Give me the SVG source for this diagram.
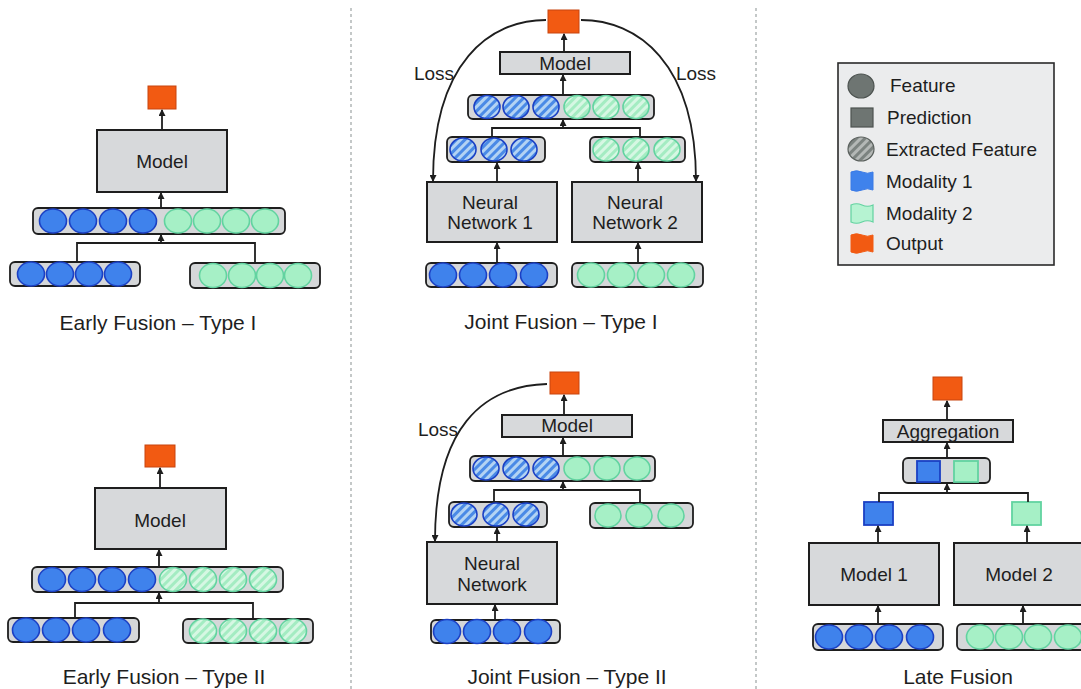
<svg xmlns="http://www.w3.org/2000/svg" width="1081" height="689" viewBox="0 0 1081 689">
  <style>
    text { font-family: "Liberation Sans", Arial, sans-serif; fill: #1e1e1e; }
    .title { font-size: 21px; text-anchor: middle; }
    .lbl { font-size: 19px; text-anchor: middle; }
    .leg { font-size: 19px; }
    .box { fill: #d7d9db; stroke: #1e1e1e; stroke-width: 2; }
    .bar { fill: #d5d7d9; stroke: #1e1e1e; stroke-width: 1.8; }
    .b { fill: #3f82ec; stroke: #1b40c4; stroke-width: 1.6; }
    .g { fill: #a6f0c6; stroke: #62d3a0; stroke-width: 1.6; }
    .bh { fill: url(#hatchBlue); stroke: #1b40c4; stroke-width: 1.6; }
    .gh { fill: url(#hatchGreen); stroke: #62d3a0; stroke-width: 1.6; }
    .out { fill: #f25a12; stroke: #c8440e; stroke-width: 1; }
    .wire { fill: none; stroke: #1e1e1e; stroke-width: 1.8; }
    .arr { fill: none; stroke: #1e1e1e; stroke-width: 1.8; marker-end: url(#ah); }
    .sep { stroke: #c4c8c8; stroke-width: 2; stroke-dasharray: 3 3; }
  </style>
  <defs>
    <marker id="ah" markerWidth="7" markerHeight="7" refX="6" refY="3.5" orient="auto" markerUnits="userSpaceOnUse">
      <path d="M0,0 L7,3.5 L0,7 z" fill="#1e1e1e"/>
    </marker>
    <pattern id="hatchBlue" width="6" height="6" patternUnits="userSpaceOnUse" patternTransform="rotate(45)">
      <rect width="6" height="6" fill="#b3d3f3"/>
      <rect width="3" height="6" fill="#4a8ae6"/>
    </pattern>
    <pattern id="hatchGreen" width="6" height="6" patternUnits="userSpaceOnUse" patternTransform="rotate(45)">
      <rect width="6" height="6" fill="#d6f7e3"/>
      <rect width="3" height="6" fill="#a4ecc2"/>
    </pattern>
    <pattern id="hatchGray" width="6" height="6" patternUnits="userSpaceOnUse" patternTransform="rotate(45)">
      <rect width="6" height="6" fill="#b4b8b6"/>
      <rect width="3" height="6" fill="#7c8380"/>
    </pattern>
  </defs>

  <rect width="1081" height="689" fill="#ffffff"/>

  <!-- dotted column separators -->
  <line class="sep" x1="351" y1="8" x2="351" y2="689"/>
  <line class="sep" x1="756" y1="8" x2="756" y2="689"/>

  <!-- ============ Early Fusion – Type I ============ -->
  <g id="ef1-output"><rect class="out" x="148" y="86" width="28" height="23"/></g>
  <g id="ef1-model"><rect class="box" x="97" y="130" width="130" height="62"/><text class="lbl" x="162" y="168">Model</text></g>
  <g id="ef1-concat">
    <rect class="bar" x="33" y="208" width="252" height="26" rx="5"/>
    <ellipse class="b" cx="53" cy="221" rx="13.5" ry="12"/>
    <ellipse class="b" cx="83" cy="221" rx="13.5" ry="12"/>
    <ellipse class="b" cx="113" cy="221" rx="13.5" ry="12"/>
    <ellipse class="b" cx="143" cy="221" rx="13.5" ry="12"/>
    <ellipse class="g" cx="178" cy="221" rx="13.5" ry="12"/>
    <ellipse class="g" cx="207" cy="221" rx="13.5" ry="12"/>
    <ellipse class="g" cx="236" cy="221" rx="13.5" ry="12"/>
    <ellipse class="g" cx="265" cy="221" rx="13.5" ry="12"/>
  </g>
  <g id="ef1-mod1">
    <rect class="bar" x="10" y="262" width="130" height="24" rx="5"/>
    <ellipse class="b" cx="31" cy="274" rx="13.5" ry="12"/>
    <ellipse class="b" cx="60" cy="274" rx="13.5" ry="12"/>
    <ellipse class="b" cx="89" cy="274" rx="13.5" ry="12"/>
    <ellipse class="b" cx="118" cy="274" rx="13.5" ry="12"/>
  </g>
  <g id="ef1-mod2">
    <rect class="bar" x="190" y="263" width="130" height="25" rx="5"/>
    <ellipse class="g" cx="213" cy="275.5" rx="13.5" ry="12"/>
    <ellipse class="g" cx="242" cy="275.5" rx="13.5" ry="12"/>
    <ellipse class="g" cx="270" cy="275.5" rx="13.5" ry="12"/>
    <ellipse class="g" cx="298" cy="275.5" rx="13.5" ry="12"/>
  </g>
  <text class="title" x="158" y="330">Early Fusion – Type I</text>

  <!-- ============ Early Fusion – Type II ============ -->
  <g id="ef2-output"><rect class="out" x="145" y="445" width="30" height="22"/></g>
  <g id="ef2-model"><rect class="box" x="95" y="488" width="131" height="61"/><text class="lbl" x="160" y="527">Model</text></g>
  <g id="ef2-concat">
    <rect class="bar" x="32" y="567" width="251" height="25" rx="5"/>
    <ellipse class="b" cx="52" cy="579.5" rx="13.5" ry="12"/>
    <ellipse class="b" cx="82" cy="579.5" rx="13.5" ry="12"/>
    <ellipse class="b" cx="112" cy="579.5" rx="13.5" ry="12"/>
    <ellipse class="b" cx="142" cy="579.5" rx="13.5" ry="12"/>
    <ellipse class="gh" cx="173" cy="579.5" rx="13.5" ry="12"/>
    <ellipse class="gh" cx="203" cy="579.5" rx="13.5" ry="12"/>
    <ellipse class="gh" cx="233" cy="579.5" rx="13.5" ry="12"/>
    <ellipse class="gh" cx="263" cy="579.5" rx="13.5" ry="12"/>
  </g>
  <g id="ef2-mod1">
    <rect class="bar" x="8" y="618" width="131" height="24" rx="5"/>
    <ellipse class="b" cx="26" cy="630" rx="13.5" ry="12"/>
    <ellipse class="b" cx="56" cy="630" rx="13.5" ry="12"/>
    <ellipse class="b" cx="86" cy="630" rx="13.5" ry="12"/>
    <ellipse class="b" cx="117" cy="630" rx="13.5" ry="12"/>
  </g>
  <g id="ef2-mod2">
    <rect class="bar" x="183" y="619" width="130" height="24" rx="5"/>
    <ellipse class="gh" cx="203" cy="631" rx="13.5" ry="12"/>
    <ellipse class="gh" cx="233" cy="631" rx="13.5" ry="12"/>
    <ellipse class="gh" cx="263" cy="631" rx="13.5" ry="12"/>
    <ellipse class="gh" cx="293" cy="631" rx="13.5" ry="12"/>
  </g>
  <text class="title" x="164" y="684">Early Fusion – Type II</text>

  <!-- ============ Joint Fusion – Type I ============ -->
  <g id="jf1-output"><rect class="out" x="548" y="10" width="31" height="23"/></g>
  <g id="jf1-model"><rect class="box" x="500" y="52" width="130" height="22"/><text class="lbl" x="565" y="70">Model</text></g>
  <g id="jf1-concat">
    <rect class="bar" x="468" y="95" width="186" height="24" rx="5"/>
    <ellipse class="bh" cx="487" cy="107" rx="13" ry="11.5"/>
    <ellipse class="bh" cx="516" cy="107" rx="13" ry="11.5"/>
    <ellipse class="bh" cx="546" cy="107" rx="13" ry="11.5"/>
    <ellipse class="gh" cx="577" cy="107" rx="13" ry="11.5"/>
    <ellipse class="gh" cx="606" cy="107" rx="13" ry="11.5"/>
    <ellipse class="gh" cx="636" cy="107" rx="13" ry="11.5"/>
  </g>
  <g id="jf1-feat1">
    <rect class="bar" x="447" y="137" width="98" height="25" rx="5"/>
    <ellipse class="bh" cx="463" cy="149.5" rx="13" ry="11.5"/>
    <ellipse class="bh" cx="494" cy="149.5" rx="13" ry="11.5"/>
    <ellipse class="bh" cx="524" cy="149.5" rx="13" ry="11.5"/>
  </g>
  <g id="jf1-feat2">
    <rect class="bar" x="590" y="137" width="95" height="25" rx="5"/>
    <ellipse class="gh" cx="606" cy="149.5" rx="13" ry="11.5"/>
    <ellipse class="gh" cx="636" cy="149.5" rx="13" ry="11.5"/>
    <ellipse class="gh" cx="667" cy="149.5" rx="13" ry="11.5"/>
  </g>
  <g id="jf1-nn1"><rect class="box" x="427" y="182" width="130" height="60"/><text class="lbl" x="490" y="209">Neural</text><text class="lbl" x="490" y="229">Network 1</text></g>
  <g id="jf1-nn2"><rect class="box" x="572" y="182" width="130" height="60"/><text class="lbl" x="635" y="209">Neural</text><text class="lbl" x="635" y="229">Network 2</text></g>
  <g id="jf1-mod1">
    <rect class="bar" x="426" y="263" width="131" height="24" rx="5"/>
    <ellipse class="b" cx="443" cy="275" rx="13.5" ry="12"/>
    <ellipse class="b" cx="473" cy="275" rx="13.5" ry="12"/>
    <ellipse class="b" cx="503" cy="275" rx="13.5" ry="12"/>
    <ellipse class="b" cx="534" cy="275" rx="13.5" ry="12"/>
  </g>
  <g id="jf1-mod2">
    <rect class="bar" x="572" y="263" width="131" height="24" rx="5"/>
    <ellipse class="g" cx="591" cy="275" rx="13.5" ry="12"/>
    <ellipse class="g" cx="621" cy="275" rx="13.5" ry="12"/>
    <ellipse class="g" cx="651" cy="275" rx="13.5" ry="12"/>
    <ellipse class="g" cx="681" cy="275" rx="13.5" ry="12"/>
  </g>
  <text class="lbl" x="434" y="80">Loss</text>
  <text class="lbl" x="696" y="80">Loss</text>
  <text class="title" x="561" y="329">Joint Fusion – Type I</text>

  <!-- ============ Joint Fusion – Type II ============ -->
  <g id="jf2-output"><rect class="out" x="550" y="372" width="29" height="22"/></g>
  <g id="jf2-model"><rect class="box" x="502" y="415" width="130" height="22"/><text class="lbl" x="567" y="432">Model</text></g>
  <g id="jf2-concat">
    <rect class="bar" x="470" y="456" width="185" height="25" rx="5"/>
    <ellipse class="bh" cx="486" cy="468.5" rx="13" ry="11.5"/>
    <ellipse class="bh" cx="516" cy="468.5" rx="13" ry="11.5"/>
    <ellipse class="bh" cx="546" cy="468.5" rx="13" ry="11.5"/>
    <ellipse class="g" cx="577" cy="468.5" rx="13" ry="11.5"/>
    <ellipse class="g" cx="607" cy="468.5" rx="13" ry="11.5"/>
    <ellipse class="g" cx="637" cy="468.5" rx="13" ry="11.5"/>
  </g>
  <g id="jf2-feat1">
    <rect class="bar" x="449" y="502" width="98" height="25" rx="5"/>
    <ellipse class="bh" cx="464" cy="514.5" rx="13" ry="11.5"/>
    <ellipse class="bh" cx="496" cy="514.5" rx="13" ry="11.5"/>
    <ellipse class="bh" cx="526" cy="514.5" rx="13" ry="11.5"/>
  </g>
  <g id="jf2-mod2">
    <rect class="bar" x="590" y="503" width="103" height="25" rx="5"/>
    <ellipse class="g" cx="608" cy="515.5" rx="13" ry="11.5"/>
    <ellipse class="g" cx="639" cy="515.5" rx="13" ry="11.5"/>
    <ellipse class="g" cx="671" cy="515.5" rx="13" ry="11.5"/>
  </g>
  <g id="jf2-nn"><rect class="box" x="427" y="542" width="130" height="62"/><text class="lbl" x="492" y="570">Neural</text><text class="lbl" x="492" y="591">Network</text></g>
  <g id="jf2-mod1">
    <rect class="bar" x="431" y="620" width="129" height="23" rx="5"/>
    <ellipse class="b" cx="447" cy="631.5" rx="13.5" ry="12"/>
    <ellipse class="b" cx="477" cy="631.5" rx="13.5" ry="12"/>
    <ellipse class="b" cx="507" cy="631.5" rx="13.5" ry="12"/>
    <ellipse class="b" cx="538" cy="631.5" rx="13.5" ry="12"/>
  </g>
  <text class="lbl" x="438" y="436">Loss</text>
  <text class="title" x="567" y="684">Joint Fusion – Type II</text>

  <!-- ============ Late Fusion ============ -->
  <g id="lf-output"><rect class="out" x="933" y="377" width="29" height="23"/></g>
  <g id="lf-aggregation"><rect class="box" x="883" y="420" width="130" height="22"/><text class="lbl" x="948" y="438">Aggregation</text></g>
  <g id="lf-concat">
    <rect class="bar" x="903" y="458" width="87" height="25" rx="5"/>
    <rect x="917" y="461" width="23" height="21" fill="#3f82ec" stroke="#1b40c4" stroke-width="1.8"/>
    <rect x="954" y="461" width="24" height="21" fill="#a6f0c6" stroke="#62d3a0" stroke-width="1.8"/>
  </g>
  <g id="lf-pred1"><rect x="864" y="502" width="29" height="23" fill="#3f82ec" stroke="#1b40c4" stroke-width="1.8"/></g>
  <g id="lf-pred2"><rect x="1012" y="502" width="29" height="23" fill="#a6f0c6" stroke="#62d3a0" stroke-width="1.8"/></g>
  <g id="lf-model1"><rect class="box" x="809" y="543" width="130" height="62"/><text class="lbl" x="874" y="581">Model 1</text></g>
  <g id="lf-model2"><rect class="box" x="954" y="543" width="135" height="62"/><text class="lbl" x="1019" y="581">Model 2</text></g>
  <g id="lf-mod1">
    <rect class="bar" x="813" y="624" width="130" height="26" rx="5"/>
    <ellipse class="b" cx="829" cy="637" rx="13.5" ry="12"/>
    <ellipse class="b" cx="859" cy="637" rx="13.5" ry="12"/>
    <ellipse class="b" cx="889" cy="637" rx="13.5" ry="12"/>
    <ellipse class="b" cx="920" cy="637" rx="13.5" ry="12"/>
  </g>
  <g id="lf-mod2">
    <rect class="bar" x="957" y="624" width="135" height="26" rx="5"/>
    <ellipse class="g" cx="980" cy="637" rx="13.5" ry="12"/>
    <ellipse class="g" cx="1009" cy="637" rx="13.5" ry="12"/>
    <ellipse class="g" cx="1038" cy="637" rx="13.5" ry="12"/>
    <ellipse class="g" cx="1068" cy="637" rx="13.5" ry="12"/>
  </g>
  <text class="title" x="958" y="684">Late Fusion</text>

  <!-- ============ Legend ============ -->
  <g id="legend">
    <rect x="838" y="63" width="216" height="202" fill="#ebeced" stroke="#2a2a2a" stroke-width="1.6"/>
    <ellipse cx="861" cy="86" rx="13" ry="12" fill="#6e7572" stroke="#4d5350" stroke-width="1.2"/>
    <rect x="851" y="108" width="22" height="19" fill="#6e7572" stroke="#4d5350" stroke-width="1.2"/>
    <ellipse cx="861" cy="149" rx="13" ry="12" fill="url(#hatchGray)" stroke="#5a605d" stroke-width="1.2"/>
    <path d="M851,172 Q856.5,169.5 862,172 Q867.5,174.5 873,172 L873,190 Q867.5,187.5 862,190 Q856.5,192.5 851,190 Z" fill="#3f82ec" stroke="#3a7ae6" stroke-width="1"/>
    <path d="M851,205 Q856.5,202.5 862,205 Q867.5,207.5 873,205 L873,222 Q867.5,219.5 862,222 Q856.5,224.5 851,222 Z" fill="#b6f3d2" stroke="#62d3a0" stroke-width="1.2"/>
    <path d="M851,235 Q856.5,232.5 862,235 Q867.5,237.5 873,235 L873,252 Q867.5,249.5 862,252 Q856.5,254.5 851,252 Z" fill="#f25a12" stroke="#f25a12" stroke-width="1"/>
    <text class="leg" x="890" y="92">Feature</text>
    <text class="leg" x="887" y="124">Prediction</text>
    <text class="leg" x="886" y="156">Extracted Feature</text>
    <text class="leg" x="886" y="188">Modality 1</text>
    <text class="leg" x="886" y="220">Modality 2</text>
    <text class="leg" x="886" y="250">Output</text>
  </g>

  <!-- ============ Connectors ============ -->
  <g id="connectors">
    <!-- Early Fusion I -->
    <polyline class="wire" points="77,262 77,243 255,243 255,263"/>
    <line class="arr" x1="161" y1="243" x2="161" y2="235"/>
    <line class="arr" x1="161" y1="208" x2="161" y2="193"/>
    <line class="arr" x1="162" y1="130" x2="162" y2="110"/>
    <!-- Early Fusion II -->
    <polyline class="wire" points="75,618 75,603 253,603 253,619"/>
    <line class="arr" x1="159" y1="603" x2="159" y2="593"/>
    <line class="arr" x1="159" y1="567" x2="159" y2="550"/>
    <line class="arr" x1="160" y1="488" x2="160" y2="468"/>
    <!-- Joint Fusion I -->
    <line class="arr" x1="497" y1="263" x2="497" y2="243"/>
    <line class="arr" x1="638" y1="263" x2="638" y2="243"/>
    <line class="arr" x1="497" y1="182" x2="497" y2="163"/>
    <line class="arr" x1="638" y1="182" x2="638" y2="163"/>
    <polyline class="wire" points="492,137 492,128 640,128 640,137"/>
    <line class="arr" x1="563" y1="128" x2="563" y2="120"/>
    <line class="arr" x1="563" y1="95" x2="563" y2="75"/>
    <line class="arr" x1="564" y1="52" x2="564" y2="34"/>
    <path class="arr" d="M546,20 C490,20 433,62 433,181"/>
    <path class="arr" d="M581,20 C637,20 696,62 696,181"/>
    <!-- Joint Fusion II -->
    <line class="arr" x1="495" y1="620" x2="495" y2="605"/>
    <line class="arr" x1="497" y1="542" x2="497" y2="528"/>
    <polyline class="wire" points="494,502 494,490 640,490 640,503"/>
    <line class="arr" x1="563" y1="490" x2="563" y2="482"/>
    <line class="arr" x1="563" y1="456" x2="563" y2="438"/>
    <line class="arr" x1="564" y1="415" x2="564" y2="395"/>
    <path class="arr" d="M547,384 C482,386 435,428 435,541"/>
    <!-- Late Fusion -->
    <line class="arr" x1="878" y1="624" x2="878" y2="606"/>
    <line class="arr" x1="1023" y1="624" x2="1023" y2="606"/>
    <line class="arr" x1="878" y1="543" x2="878" y2="526"/>
    <line class="arr" x1="1027" y1="543" x2="1027" y2="526"/>
    <polyline class="wire" points="879,502 879,493 1028,493 1028,502"/>
    <line class="arr" x1="947" y1="493" x2="947" y2="484"/>
    <line class="arr" x1="947" y1="458" x2="947" y2="443"/>
    <line class="arr" x1="947" y1="420" x2="947" y2="401"/>
  </g>
</svg>
